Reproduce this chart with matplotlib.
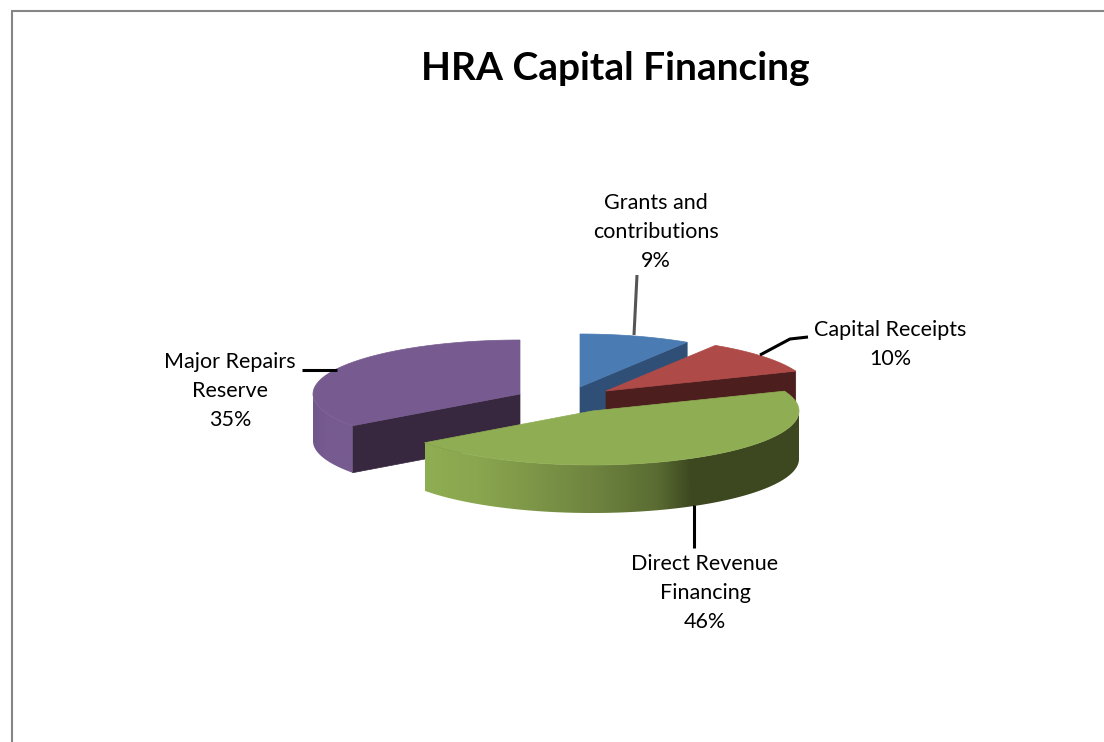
import numpy as np
import matplotlib
matplotlib.use('Agg')
import matplotlib.pyplot as plt
from matplotlib.colors import LinearSegmentedColormap
from matplotlib.patches import Polygon

plt.rcParams['font.family'] = ['Lato', 'DejaVu Sans']

# data, clockwise from 12 o'clock
categories = ['Grants and\ncontributions', 'Capital Receipts', 'Direct Revenue\nFinancing', 'Major Repairs\nReserve']
values = [9, 10, 46, 35]

# one exploded slice each: centre x, centre y, radius x, radius y, depth
centres = [(580, 387, 200, 53, 48), (606, 391, 204, 54, 48), (592, 411, 207, 54, 48), (520, 394, 207, 54, 47)]
top_colours = ['#4a7bb2', '#ae4a47', '#8fad52', '#775b90']
face_colours = ['#2f4f77', '#4c1e1e', '#3d4820', '#37283f']
side_stops = [
    [(0, '#2f4f77'), (1, '#2f4f77')],
    [(0, '#4c1e1e'), (1, '#4c1e1e')],
    [(0, '#8fad52'), (0.14, '#8aa64f'), (0.44, '#6f8540'), (0.62, '#5a6c32'), (0.71, '#3d4820'), (1, '#3d4820')],
    [(0, '#70568a'), (0.3, '#775b90'), (1, '#775b90')],
]
label_pos = [(656, 203), (890, 330), (705, 564), (230, 362)]
leaders = [
    ([634, 637], [335, 275], '#555555'),
    ([760, 790, 808], [355, 339, 337], 'black'),
    ([694, 694], [505, 548], 'black'),
    ([302, 337], [370, 370], 'black'),
]

fig = plt.figure(figsize=(11.04, 7.42), dpi=100)
ax = fig.add_axes([0, 0, 1, 1])

# grey chart border, only top and left are in view
ax.plot([12, 12, 1104], [742, 11, 11], color='#868686', lw=1.5, solid_joinstyle='miter')

ends = np.cumsum(values) / sum(values) * 2 * np.pi
starts = np.r_[0, ends[:-1]]

def rim(i, a):
    cx, cy, rx, ry, d = centres[i]
    return cx + rx * np.sin(a), cy - ry * np.cos(a)

# back to front
z = 2
for i in [3, 0, 1, 2]:
    cx, cy, rx, ry, d = centres[i]
    a = np.linspace(starts[i], ends[i], 200)
    x, y = rim(i, a)

    # cut faces, drawn only where they turn towards the viewer
    for edge, visible in ((ends[i], np.sin(ends[i]) > 1e-6), (starts[i], np.sin(starts[i]) < -1e-6)):
        if visible:
            ex, ey = rim(i, edge)
            ax.add_patch(Polygon([(cx, cy), (ex, ey), (ex, ey + d), (cx, cy + d)], closed=True,
                                 fc=face_colours[i], ec=face_colours[i], lw=0.5, zorder=z))

    # outer wall, only the front half of the rim shows
    a0, a1 = max(starts[i], np.pi / 2), min(ends[i], 1.5 * np.pi)
    if a1 > a0:
        wa = np.linspace(a0, a1, 200)
        wx, wy = rim(i, wa)
        wall = np.c_[np.r_[wx, wx[::-1]], np.r_[wy, wy[::-1] + d]]
        cmap = LinearSegmentedColormap.from_list('side%d' % i, side_stops[i])
        im = ax.imshow(np.linspace(0, 1, 256)[None, :], cmap=cmap, vmin=0, vmax=1, aspect='auto',
                       extent=[wx.min(), wx.max(), cy + ry + d, cy - ry], zorder=z + 1,
                       interpolation='bilinear')
        im.set_clip_path(Polygon(wall, closed=True, transform=ax.transData))

    # top
    ax.add_patch(Polygon(np.c_[np.r_[cx, x], np.r_[cy, y]], closed=True,
                         fc=top_colours[i], ec=top_colours[i], lw=0.5, zorder=z + 2))
    z += 3

ax.set_xlim(0, 1104)
ax.set_ylim(742, 0)
ax.axis('off')

for xs, ys, c in leaders:
    ax.plot(xs, ys, color=c, lw=2.2, zorder=20, solid_capstyle='butt')

for cat, val, (tx, ty) in zip(categories, values, label_pos):
    ax.text(tx, ty - 10, '%s\n%d%%' % (cat, val), ha='center', va='top', fontsize=15.5,
            linespacing=1.56, color='black', zorder=21)

ax.text(615, 69, 'HRA Capital Financing', ha='center', va='center', fontsize=28,
        fontweight='bold', color='black', zorder=21)

fig.savefig('out.png', dpi=100, facecolor='white')
